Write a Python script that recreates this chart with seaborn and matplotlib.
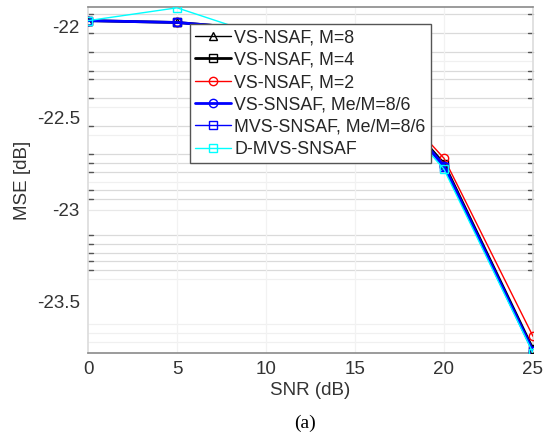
import numpy as np
import pandas as pd
import matplotlib
matplotlib.use("Agg")
import matplotlib.pyplot as plt
import seaborn as sns

snr = [0, 5, 10, 15, 20, 25]
vs_nsaf_m8 = [-21.97, -21.98, -22.02, -22.20, -22.75, -23.76]
vs_nsaf_m4 = [-21.97, -21.98, -22.02, -22.20, -22.75, -23.76]
vs_nsaf_m2 = [-21.97, -21.98, -22.02, -22.19, -22.72, -23.69]
vs_snsaf = [-21.97, -21.98, -22.02, -22.20, -22.76, -23.77]
mvs_snsaf = [-21.97, -21.98, -22.03, -22.21, -22.77, -23.77]
d_mvs_snsaf = [-21.97, -21.90, -22.06, -22.22, -22.78, -23.78]

labels = ["VS-NSAF, M=8", "VS-NSAF, M=4", "VS-NSAF, M=2",
          "VS-SNSAF, Me/M=8/6", "MVS-SNSAF, Me/M=8/6", "D-MVS-SNSAF"]
series = [vs_nsaf_m8, vs_nsaf_m4, vs_nsaf_m2, vs_snsaf, mvs_snsaf, d_mvs_snsaf]
colors = ["black", "black", "red", "blue", "blue", "cyan"]
markers = ["^", "s", "o", "o", "s", "s"]
widths = [1.0, 2.0, 1.0, 2.0, 1.0, 1.0]

xticks = [0, 5, 10, 15, 20, 25]
yticks = [-22, -22.5, -23, -23.5]
ytick_labels = ["-22", "-22.5", "-23", "-23.5"]
minor_dark = [-21.935, -22.037, -22.14, -22.244, -22.29, -22.394, -22.545,
              -22.696, -22.745, -22.794, -22.895, -22.943, -23.141, -23.188,
              -23.235, -23.282, -23.331]
minor_faint = [-22.191, -22.443, -22.594, -22.849, -23.379, -23.626,
               -23.673, -23.722]

sns.set_theme(style="white")
plt.rcParams['font.family'] = ['Liberation Sans', 'DejaVu Sans']

fig = plt.figure(figsize=(5.54, 4.42), dpi=100)
ax = fig.add_axes([0.159, 0.202, 0.803, 0.782])

for yv in minor_dark:
    ax.axhline(yv, color="#dadada", lw=0.9, zorder=0)
for yv in minor_faint:
    ax.axhline(yv, color="#f0f0f0", lw=0.9, zorder=0)
for yv in [-23.0]:
    ax.axhline(yv, color="#e8e8e8", lw=0.9, zorder=0)
for xv in [5, 10, 15, 20]:
    ax.axvline(xv, color="#f2f2f2", lw=0.9, zorder=0)
# short minor tick marks at both sides
for yv in minor_dark:
    ax.plot([0, 0.25], [yv, yv], color="#555555", lw=1.0, zorder=1,
            clip_on=False)
    ax.plot([24.75, 25], [yv, yv], color="#555555", lw=1.0, zorder=1,
            clip_on=False)

for lab, vals, c, m, w in zip(labels, series, colors, markers, widths):
    df = pd.DataFrame({"SNR": snr, "MSE": vals})
    sns.lineplot(data=df, x="SNR", y="MSE", ax=ax, color=c, marker=m,
                 markersize=6, markerfacecolor="none", markeredgecolor=c,
                 markeredgewidth=1.0, lw=w, label=lab, zorder=3)

ax.set_xlim(0, 25)
ax.set_ylim(-23.78, -21.896)
ax.set_xticks(xticks)
ax.set_xticklabels([str(v) for v in xticks], fontsize=13.5, color="#333333")
ax.set_yticks(yticks)
ax.set_yticklabels(ytick_labels, fontsize=13.5, color="#333333")
ax.tick_params(length=0, pad=6)
ax.set_xlabel("SNR (dB)", fontsize=13.5, color="#333333", labelpad=3)
ax.set_ylabel("MSE [dB]", fontsize=13.5, color="#333333", labelpad=4)

ax.spines["top"].set_color("#8a8a8a")
ax.spines["bottom"].set_color("#8a8a8a")
ax.spines["left"].set_color("#dcdcdc")
ax.spines["right"].set_color("#dcdcdc")
for s in ax.spines.values():
    s.set_linewidth(1.2)

leg = ax.legend(loc="upper left", bbox_to_anchor=(0.229, 0.951),
                borderaxespad=0, fontsize=12.8, frameon=True, fancybox=False,
                handlelength=2.0, handletextpad=0.2, labelspacing=0.3,
                borderpad=0.3)
leg.get_frame().set_edgecolor("#555555")
leg.get_frame().set_linewidth(1.0)
leg.get_frame().set_alpha(1)
leg.set_zorder(5)

fig.text(0.55, 0.043, "(a)", fontsize=14, family="Liberation Serif",
         ha="center", va="center", color="black")

fig.savefig("out.png", dpi=100)
